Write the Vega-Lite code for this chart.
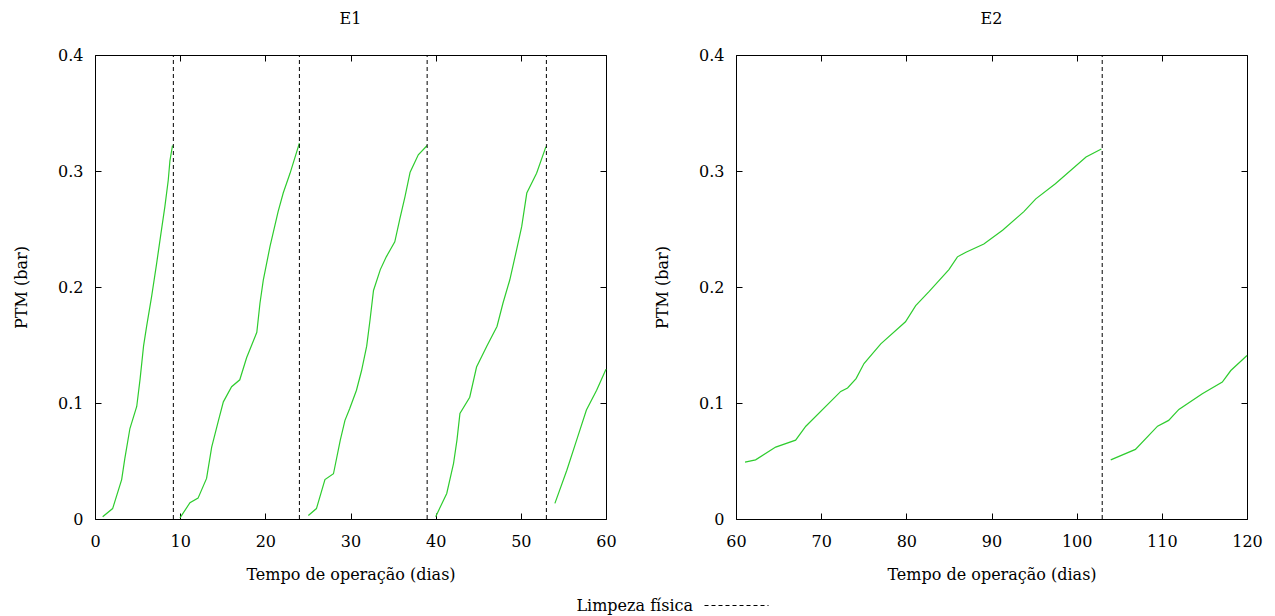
{
  "$schema": "https://vega.github.io/schema/vega-lite/v6.json",
  "padding": {"left": 13, "top": 11, "right": 5, "bottom": 2},
  "background": "white",
  "datasets": {
    "e1": [
      {"dia": 0.9, "ptm": 0.002, "ciclo": 1}, {"dia": 2.07, "ptm": 0.009, "ciclo": 1}, {"dia": 3.13, "ptm": 0.034, "ciclo": 1}, {"dia": 3.5, "ptm": 0.052, "ciclo": 1},
      {"dia": 4.1, "ptm": 0.078, "ciclo": 1}, {"dia": 4.9, "ptm": 0.097, "ciclo": 1}, {"dia": 5.3, "ptm": 0.121, "ciclo": 1}, {"dia": 5.7, "ptm": 0.149, "ciclo": 1},
      {"dia": 6.06, "ptm": 0.166, "ciclo": 1}, {"dia": 6.65, "ptm": 0.192, "ciclo": 1}, {"dia": 7.23, "ptm": 0.22, "ciclo": 1}, {"dia": 7.8, "ptm": 0.249, "ciclo": 1},
      {"dia": 8.2, "ptm": 0.269, "ciclo": 1}, {"dia": 8.6, "ptm": 0.292, "ciclo": 1}, {"dia": 8.8, "ptm": 0.309, "ciclo": 1}, {"dia": 9.1, "ptm": 0.322, "ciclo": 1},
      {"dia": 9.98, "ptm": 0.001, "ciclo": 2}, {"dia": 11.15, "ptm": 0.014, "ciclo": 2}, {"dia": 12.1, "ptm": 0.018, "ciclo": 2}, {"dia": 13.1, "ptm": 0.035, "ciclo": 2},
      {"dia": 13.7, "ptm": 0.062, "ciclo": 2}, {"dia": 14.5, "ptm": 0.085, "ciclo": 2}, {"dia": 15.07, "ptm": 0.101, "ciclo": 2}, {"dia": 16.04, "ptm": 0.114, "ciclo": 2},
      {"dia": 17.0, "ptm": 0.12, "ciclo": 2}, {"dia": 17.8, "ptm": 0.139, "ciclo": 2}, {"dia": 19.0, "ptm": 0.161, "ciclo": 2}, {"dia": 19.37, "ptm": 0.186, "ciclo": 2},
      {"dia": 19.76, "ptm": 0.206, "ciclo": 2}, {"dia": 20.55, "ptm": 0.235, "ciclo": 2}, {"dia": 21.5, "ptm": 0.265, "ciclo": 2}, {"dia": 22.1, "ptm": 0.281, "ciclo": 2},
      {"dia": 22.9, "ptm": 0.298, "ciclo": 2}, {"dia": 24.0, "ptm": 0.324, "ciclo": 2},
      {"dia": 25.05, "ptm": 0.003, "ciclo": 3}, {"dia": 26.0, "ptm": 0.009, "ciclo": 3}, {"dia": 27.0, "ptm": 0.034, "ciclo": 3}, {"dia": 28.0, "ptm": 0.039, "ciclo": 3},
      {"dia": 28.8, "ptm": 0.068, "ciclo": 3}, {"dia": 29.35, "ptm": 0.085, "ciclo": 3}, {"dia": 29.9, "ptm": 0.095, "ciclo": 3}, {"dia": 30.7, "ptm": 0.111, "ciclo": 3},
      {"dia": 31.3, "ptm": 0.128, "ciclo": 3}, {"dia": 31.9, "ptm": 0.149, "ciclo": 3}, {"dia": 32.3, "ptm": 0.172, "ciclo": 3}, {"dia": 32.7, "ptm": 0.197, "ciclo": 3},
      {"dia": 33.5, "ptm": 0.215, "ciclo": 3}, {"dia": 34.2, "ptm": 0.226, "ciclo": 3}, {"dia": 35.2, "ptm": 0.239, "ciclo": 3}, {"dia": 35.8, "ptm": 0.259, "ciclo": 3},
      {"dia": 36.4, "ptm": 0.278, "ciclo": 3}, {"dia": 37.0, "ptm": 0.299, "ciclo": 3}, {"dia": 37.96, "ptm": 0.314, "ciclo": 3}, {"dia": 39.0, "ptm": 0.322, "ciclo": 3},
      {"dia": 40.0, "ptm": 0.002, "ciclo": 4}, {"dia": 41.3, "ptm": 0.022, "ciclo": 4}, {"dia": 42.1, "ptm": 0.048, "ciclo": 4}, {"dia": 42.5, "ptm": 0.068, "ciclo": 4},
      {"dia": 42.85, "ptm": 0.091, "ciclo": 4}, {"dia": 44.0, "ptm": 0.105, "ciclo": 4}, {"dia": 44.8, "ptm": 0.131, "ciclo": 4}, {"dia": 46.0, "ptm": 0.149, "ciclo": 4},
      {"dia": 47.2, "ptm": 0.166, "ciclo": 4}, {"dia": 47.9, "ptm": 0.186, "ciclo": 4}, {"dia": 48.7, "ptm": 0.206, "ciclo": 4}, {"dia": 49.5, "ptm": 0.232, "ciclo": 4},
      {"dia": 50.1, "ptm": 0.252, "ciclo": 4}, {"dia": 50.7, "ptm": 0.281, "ciclo": 4}, {"dia": 51.85, "ptm": 0.298, "ciclo": 4}, {"dia": 52.95, "ptm": 0.321, "ciclo": 4},
      {"dia": 54.0, "ptm": 0.0135, "ciclo": 5}, {"dia": 55.4, "ptm": 0.042, "ciclo": 5}, {"dia": 56.55, "ptm": 0.068, "ciclo": 5}, {"dia": 57.7, "ptm": 0.094, "ciclo": 5},
      {"dia": 58.9, "ptm": 0.111, "ciclo": 5}, {"dia": 60.0, "ptm": 0.129, "ciclo": 5}
    ],
    "e2": [
      {"dia": 61.06, "ptm": 0.049, "ciclo": 1}, {"dia": 62.3, "ptm": 0.051, "ciclo": 1}, {"dia": 64.66, "ptm": 0.062, "ciclo": 1}, {"dia": 67.0, "ptm": 0.068, "ciclo": 1},
      {"dia": 68.2, "ptm": 0.08, "ciclo": 1}, {"dia": 72.3, "ptm": 0.11, "ciclo": 1}, {"dia": 73.1, "ptm": 0.113, "ciclo": 1}, {"dia": 74.1, "ptm": 0.121, "ciclo": 1},
      {"dia": 75.03, "ptm": 0.134, "ciclo": 1}, {"dia": 77.0, "ptm": 0.151, "ciclo": 1}, {"dia": 79.9, "ptm": 0.17, "ciclo": 1}, {"dia": 81.1, "ptm": 0.184, "ciclo": 1},
      {"dia": 82.66, "ptm": 0.196, "ciclo": 1}, {"dia": 85.0, "ptm": 0.215, "ciclo": 1}, {"dia": 86.0, "ptm": 0.226, "ciclo": 1}, {"dia": 87.0, "ptm": 0.23, "ciclo": 1},
      {"dia": 89.1, "ptm": 0.237, "ciclo": 1}, {"dia": 91.3, "ptm": 0.249, "ciclo": 1}, {"dia": 93.8, "ptm": 0.265, "ciclo": 1}, {"dia": 95.2, "ptm": 0.276, "ciclo": 1},
      {"dia": 97.5, "ptm": 0.289, "ciclo": 1}, {"dia": 101.1, "ptm": 0.312, "ciclo": 1}, {"dia": 102.9, "ptm": 0.319, "ciclo": 1},
      {"dia": 104.0, "ptm": 0.051, "ciclo": 2}, {"dia": 106.9, "ptm": 0.06, "ciclo": 2}, {"dia": 109.5, "ptm": 0.08, "ciclo": 2}, {"dia": 110.8, "ptm": 0.085, "ciclo": 2},
      {"dia": 112.0, "ptm": 0.0945, "ciclo": 2}, {"dia": 114.75, "ptm": 0.108, "ciclo": 2}, {"dia": 117.1, "ptm": 0.118, "ciclo": 2}, {"dia": 118.1, "ptm": 0.128, "ciclo": 2},
      {"dia": 120.0, "ptm": 0.141, "ciclo": 2}
    ],
    "limpeza": [
      {"dia": 9.2, "painel": "E1", "evento": "Limpeza física"},
      {"dia": 24.0, "painel": "E1", "evento": "Limpeza física"},
      {"dia": 39.0, "painel": "E1", "evento": "Limpeza física"},
      {"dia": 53.0, "painel": "E1", "evento": "Limpeza física"},
      {"dia": 103.0, "painel": "E2", "evento": "Limpeza física"}
    ]
  },
  "spacing": 37,
  "hconcat": [
    {
      "title": {"text": "E1", "anchor": "middle", "offset": 20},
      "width": 511,
      "height": 464,
      "layer": [
        {
          "data": {"name": "e1"},
          "mark": {"type": "line", "color": "#2ecc2e", "strokeWidth": 1.2},
          "encoding": {
            "x": {"field": "dia", "type": "quantitative", "scale": {"domain": [0, 60], "nice": false, "zero": false},
                  "axis": {"orient": "bottom", "title": "Tempo de operação (dias)", "values": [0, 10, 20, 30, 40, 50, 60], "format": "d"}},
            "y": {"field": "ptm", "type": "quantitative", "scale": {"domain": [0, 0.4], "nice": false},
                  "axis": {"orient": "left", "title": "PTM (bar)", "values": [0, 0.1, 0.2, 0.3, 0.4], "format": ".1~f"}},
            "detail": {"field": "ciclo", "type": "nominal"}
          }
        },
        {
          "data": {"name": "limpeza"},
          "transform": [{"filter": "datum.painel == 'E1'"}],
          "mark": {"type": "rule", "color": "black", "strokeWidth": 1},
          "encoding": {
            "x": {"field": "dia", "type": "quantitative", "scale": {"domain": [0, 60], "nice": false, "zero": false},
                  "axis": {"orient": "top", "labels": false, "title": null, "values": [0, 10, 20, 30, 40, 50, 60]}},
            "y": {"datum": 0, "type": "quantitative", "scale": {"domain": [0, 0.4], "nice": false},
                  "axis": {"orient": "right", "labels": false, "title": null, "values": [0, 0.1, 0.2, 0.3, 0.4]}},
            "y2": {"datum": 0.4},
            "strokeDash": {"field": "evento", "type": "nominal", "scale": {"range": [[4, 3]]},
                  "legend": {"orient": "none", "legendX": 609, "legendY": 518, "padding": 0, "title": null, "symbolType": "stroke", "symbolSize": 4096, "symbolStrokeWidth": 1, "symbolStrokeColor": "black", "labelAlign": "right", "labelOffset": -76, "labelFontSize": 16, "labelFont": "DejaVu Serif", "labelColor": "black", "labelLimit": 300, "labelBaseline": "middle"}}
          }
        }
      ],
      "resolve": {"axis": {"x": "independent", "y": "independent"}}
    },
    {
      "title": {"text": "E2", "anchor": "middle", "offset": 20},
      "width": 511,
      "height": 464,
      "layer": [
        {
          "data": {"name": "e2"},
          "mark": {"type": "line", "color": "#2ecc2e", "strokeWidth": 1.2},
          "encoding": {
            "x": {"field": "dia", "type": "quantitative", "scale": {"domain": [60, 120], "nice": false, "zero": false},
                  "axis": {"orient": "bottom", "title": "Tempo de operação (dias)", "values": [60, 70, 80, 90, 100, 110, 120], "format": "d"}},
            "y": {"field": "ptm", "type": "quantitative", "scale": {"domain": [0, 0.4], "nice": false},
                  "axis": {"orient": "left", "title": "PTM (bar)", "values": [0, 0.1, 0.2, 0.3, 0.4], "format": ".1~f"}},
            "detail": {"field": "ciclo", "type": "nominal"}
          }
        },
        {
          "data": {"name": "limpeza"},
          "transform": [{"filter": "datum.painel == 'E2'"}],
          "mark": {"type": "rule", "color": "black", "strokeWidth": 1},
          "encoding": {
            "x": {"field": "dia", "type": "quantitative", "scale": {"domain": [60, 120], "nice": false, "zero": false},
                  "axis": {"orient": "top", "labels": false, "title": null, "values": [60, 70, 80, 90, 100, 110, 120]}},
            "y": {"datum": 0, "type": "quantitative", "scale": {"domain": [0, 0.4], "nice": false},
                  "axis": {"orient": "right", "labels": false, "title": null, "values": [0, 0.1, 0.2, 0.3, 0.4]}},
            "y2": {"datum": 0.4},
            "strokeDash": {"field": "evento", "type": "nominal", "scale": {"range": [[4, 3]]},
                  "legend": {"orient": "none", "legendX": 609, "legendY": 518, "padding": 0, "title": null, "symbolType": "stroke", "symbolSize": 4096, "symbolStrokeWidth": 1, "symbolStrokeColor": "black", "labelAlign": "right", "labelOffset": -76, "labelFontSize": 16, "labelFont": "DejaVu Serif", "labelColor": "black", "labelLimit": 300, "labelBaseline": "middle"}}
          }
        }
      ],
      "resolve": {"axis": {"x": "independent", "y": "independent"}}
    }
  ],
  "config": {
    "font": "DejaVu Serif",
    "view": {"stroke": null},
    "axis": {
      "domainColor": "black", "domainWidth": 1, "tickColor": "black", "tickSize": -6, "tickWidth": 1,
      "labelFont": "DejaVu Serif", "labelFontSize": 16, "labelColor": "black", "labelFlush": false, "labelOverlap": false,
      "titleFont": "DejaVu Serif", "titleFontSize": 16, "titleFontWeight": "normal", "titleColor": "black",
      "grid": false
    },
    "axisX": {"labelPadding": 20, "titlePadding": 17},
    "axisY": {"labelPadding": 18, "titlePadding": 28},
    "title": {"font": "DejaVu Serif", "fontSize": 16, "fontWeight": "normal", "color": "black"}
  }
}
